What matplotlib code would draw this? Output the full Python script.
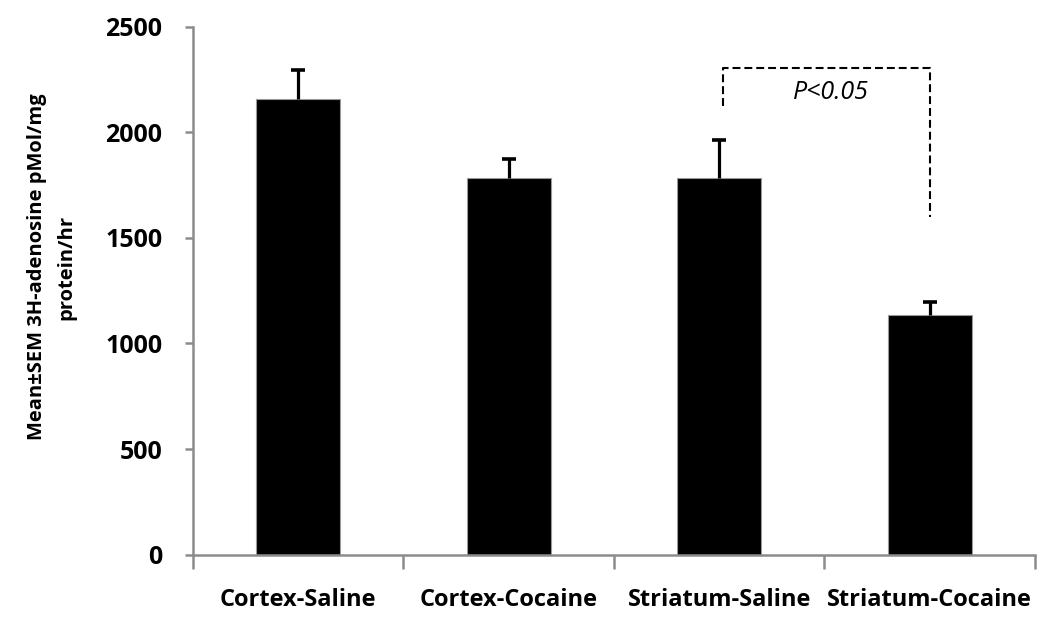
import numpy as np
import matplotlib
matplotlib.use("Agg")
import matplotlib.pyplot as plt

# data
groups = ["Cortex-Saline", "Cortex-Cocaine", "Striatum-Saline", "Striatum-Cocaine"]
means = [2160, 1783, 1783, 1134]
sem = [136, 93, 181, 64]
y_ticks = [0, 500, 1000, 1500, 2000, 2500]

# significance bracket (between Striatum-Saline and Striatum-Cocaine)
bracket_x = [2.02, 2.02, 3.0, 3.0]
bracket_y = [2126, 2306, 2306, 1600]
p_text = "P<0.05"

plt.rcParams['font.family'] = ['Open Sans', 'DejaVu Sans']

fig = plt.figure(figsize=(10.5, 6.27), dpi=100)
ax = fig.add_axes([0.1838, 0.1156, 0.8019, 0.8414])

x = np.arange(len(groups))
bars = ax.bar(x, means, width=0.4, color='black', edgecolor='#9a9a9a', linewidth=0.8,
              yerr=[np.zeros(len(sem)), sem], capsize=5,
              error_kw=dict(elinewidth=2.3, capthick=2.6, ecolor='black'), zorder=2)
# only the upper cap is drawn in the original
caps = bars.errorbar.lines[1]
if len(caps) > 1:
    caps[0].set_visible(False)

ax.plot(bracket_x, bracket_y, color='black', linestyle=(0, (3.8, 1.9)), linewidth=1.5)
ax.text(2.53, 2189, p_text, ha='center', va='center', fontsize=18, style='italic')

ax.set_xlim(-0.5, 3.5)
ax.set_ylim(0, 2500)
ax.set_yticks(y_ticks)
ax.set_yticklabels([str(v) for v in y_ticks], fontsize=18, fontweight='bold')
ax.set_xticks(x)
ax.set_xticklabels(groups, fontsize=17, fontweight='bold')
ax.set_xticks(np.arange(-0.5, 4.0, 1.0), minor=True)

ax.tick_params(axis='x', which='major', length=0, pad=24)
ax.tick_params(axis='x', which='minor', length=10, width=1.8, color='#8c8c8c')
ax.tick_params(axis='y', which='major', length=6, width=1.8, color='#8c8c8c', pad=16)

for s in ['top', 'right']:
    ax.spines[s].set_visible(False)
for s in ['left', 'bottom']:
    ax.spines[s].set_color('#8c8c8c')
    ax.spines[s].set_linewidth(1.8)

ax.set_ylabel("Mean\u00b1SEM 3H-adenosine pMol/mg\nprotein/hr", fontsize=14.5,
              fontweight='bold', linespacing=1.6)
ax.yaxis.set_label_coords(-0.139, 0.545)

fig.savefig("out.png", dpi=100)
